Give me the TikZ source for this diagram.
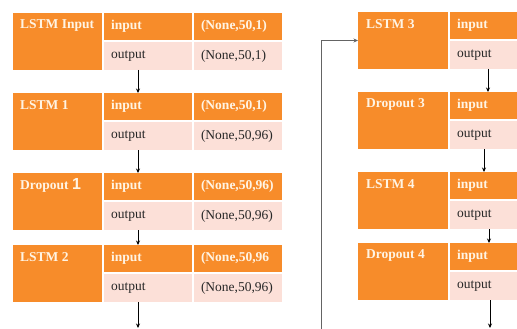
\documentclass[tikz,border=0pt]{standalone}
\usepackage{fontspec}
\setmainfont{Liberation Serif}
\newfontfamily\numfont{Liberation Sans}
\usetikzlibrary{arrows.meta}
\definecolor{org}{RGB}{247,140,42}
\definecolor{pnk}{RGB}{252,224,216}
\definecolor{hdtxt}{RGB}{255,244,228}
\definecolor{bodytxt}{RGB}{40,40,40}
\definecolor{fbline}{RGB}{100,100,100}
\tikzset{
  lblbox/.style={fill=org, anchor=north west, inner sep=0pt, outer sep=0pt, minimum width=89pt, minimum height=57pt},
  lbltxt/.style={anchor=west, text=hdtxt, font=\fontsize{13.5}{16}\selectfont\bfseries, inner sep=0pt},
  hcell/.style={fill=org, text=hdtxt, font=\fontsize{13.5}{16}\selectfont\bfseries, anchor=north west, inner xsep=7pt, inner ysep=0pt, outer sep=0pt, minimum height=27pt, align=left},
  ocell/.style={fill=pnk, text=bodytxt, font=\fontsize{13.5}{16}\selectfont, anchor=north west, inner xsep=7pt, inner ysep=0pt, outer sep=0pt, minimum height=28pt, align=left},
  arr/.style={draw=black, line width=0.7pt, -{Stealth[length=4.5pt,width=4pt]}},
  fb/.style={draw=fbline, line width=0.8pt, -{Stealth[length=4.5pt,width=4pt]}},
}
\newcommand{\leftblock}[6]{%
  \node[lblbox] (#1l) at (#2pt,-#3pt) {};
  \node[lbltxt] (#1t) at ([xshift=7pt,yshift=-12pt]#1l.north west) {#4};
  \node[hcell,text width=74pt] (#1i) at ([xshift=2pt]#1l.north east) {input};
  \node[hcell,text width=74pt] (#1iv) at ([xshift=2pt]#1i.north east) {#5};
  \node[ocell,text width=74pt] (#1o) at ([yshift=-2pt]#1i.south west) {output};
  \node[ocell,text width=74pt] (#1ov) at ([yshift=-2pt]#1iv.south west) {#6};
}
\newcommand{\rightblock}[4]{%
  \node[lblbox,minimum width=90pt] (#1l) at (#2pt,-#3pt) {};
  \node[lbltxt] (#1t) at ([xshift=8pt,yshift=-12pt]#1l.north west) {#4};
  \node[hcell,text width=53pt] (#1i) at ([xshift=2pt]#1l.north east) {input};
  \node[ocell,text width=53pt] (#1o) at ([yshift=-2pt]#1i.south west) {output};
}
\begin{document}
\begin{tikzpicture}
  \fill[white] (0,0) rectangle (517pt,-329pt);
  \useasboundingbox (0,0) rectangle (517pt,-329pt);
  % left column
  \leftblock{A}{13}{13}{LSTM Input}{(None,50,1)}{(None,50,1)}
  \leftblock{B}{13}{93}{LSTM 1}{(None,50,1)}{(None,50,96)}
  \leftblock{C}{13}{173}{Dropout {\numfont\fontsize{16}{18}\selectfont 1}}{(None,50,96)}{(None,50,96)}
  \leftblock{D}{13}{245}{LSTM 2}{(None,50,96}{(None,50,96)}
  % right column
  \rightblock{E}{358}{12}{LSTM 3}
  \rightblock{F}{358}{92}{Dropout 3}
  \rightblock{G}{358}{172}{LSTM 4}
  \rightblock{H}{358}{243}{Dropout 4}
  % connectors
  \draw[arr] ([xshift=34pt]Ao.south west) -- ([xshift=34pt]Bi.north west);
  \draw[arr] ([xshift=34pt]Bo.south west) -- ([xshift=34pt]Ci.north west);
  \draw[arr] ([xshift=34pt]Co.south west) -- ([xshift=34pt]Di.north west);
  \coordinate (endL) at (138pt,-328pt);
  \draw[arr] ([xshift=34pt]Do.south west) -- (endL);
  \draw[arr] ([xshift=38pt]Eo.south west) -- ([xshift=38pt]Fi.north west);
  \draw[arr] ([xshift=34pt]Fo.south west) -- ([xshift=34pt]Gi.north west);
  \draw[arr] ([xshift=39pt]Go.south west) -- ([xshift=39pt]Hi.north west);
  \coordinate (endR) at (490pt,-328pt);
  \draw[arr] ([xshift=40pt]Ho.south west) -- (endR);
  \coordinate (fbot) at (321pt,-329pt);
  \draw[fb] (fbot) |- (El.west);
\end{tikzpicture}
\end{document}
